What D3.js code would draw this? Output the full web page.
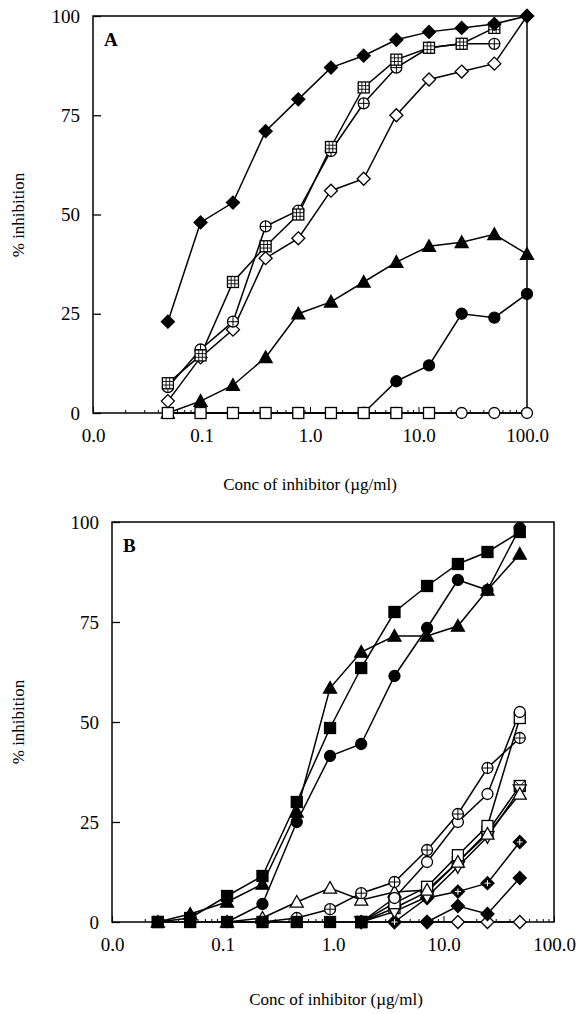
<!DOCTYPE html>
<html>
<head>
<meta charset="utf-8">
<script src="https://cdn.jsdelivr.net/npm/d3@7"></script>
<style>
  body { margin: 0; background: #fff; }
  svg { display: block; }
  text { font-family: "Liberation Serif", "Times New Roman", serif; fill: #000; }
</style>
</head>
<body>
<div id="chart"></div>
<script>
// ---- data ----
// panel A : concentrations (ug/ml)
var concA = [0.049, 0.098, 0.195, 0.39, 0.78, 1.56, 3.125, 6.25, 12.5, 25, 50, 100];
var aDiamondFilled = [23, 48, 53, 71, 79, 87, 90, 94, 96, 97, 98, 100];
var aSquareGrid    = [7.5, 14.5, 33, 42, 50, 67, 82, 89, 92, 93, 97, null];
var aCirclePlus    = [6.5, 16, 23, 47, 51, 66, 78, 87, 92, 93, 93, null];
var aDiamondOpen   = [3, 14, 21, 39, 44, 56, 59, 75, 84, 86, 88, 100];
var aTriangle      = [0, 3, 7, 14, 25, 28, 33, 38, 42, 43, 45, 40];
var aCircleFilled  = [null, null, null, null, null, null, 0, 8, 12, 25, 24, 30];
var aCircleOpen    = [0, 0, 0, 0, 0, 0, 0, 0, 0, 0, 0, 0];
var aSquareOpen    = [0, 0, 0, 0, 0, 0, 0, 0, 0, null, null, null];

// panel B
var concB = [0.026, 0.051, 0.11, 0.23, 0.47, 0.94, 1.8, 3.6, 7.1, 13.5, 25, 49];
var bSquareFilled  = [0, 1, 6.5, 11.5, 30, 48.5, 63.5, 77.5, 84, 89.5, 92.5, 97.5];
var bTriangle      = [0, 2, 5, 9.5, 27.5, 58.5, 67.5, 71.5, 71.5, 74, 83, 92];
var bCircleFilled  = [null, null, 0, 4.5, 25, 41.5, 44.5, 61.5, 73.5, 85.5, 83, 98.5];
var bCirclePlus    = [null, null, 0, 0, 1, 3.2, 7.2, 10, 18, 27, 38.5, 46];
var bTriangleOpen  = [null, null, 0, 1, 5, 8.5, 5.5, 7.5, 8, 15, 22, 32];
var bCircleOpen    = [null, null, null, null, null, null, 0, 6, 15, 25, 32, 52.5];
var bSquareOpen    = [null, null, null, null, null, null, 0, 4.7, 8.8, 16.7, 24, 51];
var bTriangleDown  = [null, null, null, null, null, null, 0, 2.6, 6.3, 13.8, 21.3, 33];
var bSquareX       = [null, null, null, null, null, null, 0, 3.5, 7.5, 15, 22.5, 34];
var bDiamondPlus   = [null, null, null, null, null, null, null, 0, 6, 7.6, 9.7, 20];
var bDiamondFilled = [null, null, null, null, null, null, 0, 0, 0, 4, 2, 11];
var bDiamondOpen   = [null, null, null, null, null, null, null, null, 0, 0, 0, 0];
var bSquareZero    = [0, 0, 0, 0, 0, 0, 0, null, null, null, null, null];

var yTicks = [0, 25, 50, 75, 100];
var xTicks = [0.01, 0.1, 1, 10, 100];
var xTitle = "Conc of inhibitor (\u00b5g/ml)";
var yTitle = "% inhibition";
var serif = "Liberation Serif, Times New Roman, serif";

var svg = d3.select("#chart").append("svg")
    .attr("width", 579).attr("height", 1014);

// draws one marker shape at 0,0 inside g
function marker(g, type) {
    var s = 5.5;
    var lw = 1.3;
    function sq(fill) {
        g.append("rect").attr("x", -s).attr("y", -s).attr("width", 2 * s).attr("height", 2 * s)
            .attr("fill", fill).attr("stroke", "#000").attr("stroke-width", lw);
    }
    function diamond(fill) {
        var d = 6.5;
        g.append("path").attr("d", "M0," + (-d) + "L" + d + ",0L0," + d + "L" + (-d) + ",0Z")
            .attr("fill", fill).attr("stroke", "#000").attr("stroke-width", lw);
    }
    function tri(fill, down) {
        var h = 6.5, k = down ? -1 : 1;
        g.append("path").attr("d", "M0," + (-h * k) + "L" + h + "," + (h * 0.8 * k) + "L" + (-h) + "," + (h * 0.8 * k) + "Z")
            .attr("fill", fill).attr("stroke", "#000").attr("stroke-width", lw);
    }
    function circ(fill) {
        g.append("circle").attr("r", 5.5).attr("fill", fill).attr("stroke", "#000").attr("stroke-width", lw);
    }
    function cross(r, col) {
        g.append("path").attr("d", "M" + (-r) + ",0H" + r + "M0," + (-r) + "V" + r)
            .attr("stroke", col || "#000").attr("stroke-width", 1);
    }
    switch (type) {
        case "diamondFilled": diamond("#000"); break;
        case "diamondOpen": diamond("#fff"); break;
        case "diamondPlus": diamond("#000"); cross(3, "#fff"); break;
        case "squareFilled": sq("#000"); break;
        case "squareOpen": sq("#fff"); break;
        case "squareGrid":
            sq("#fff");
            g.append("path").attr("d", "M" + (-s) + ",-1.8H" + s + "M" + (-s) + ",1.8H" + s +
                "M-1.8," + (-s) + "V" + s + "M1.8," + (-s) + "V" + s)
                .attr("stroke", "#000").attr("stroke-width", 0.9);
            break;
        case "squareX":
            sq("#fff");
            g.append("path").attr("d", "M" + (-s) + "," + (-s) + "L" + s + "," + s + "M" + s + "," + (-s) + "L" + (-s) + "," + s)
                .attr("stroke", "#000").attr("stroke-width", 1);
            break;
        case "triangleFilled": tri("#000", false); break;
        case "triangleOpen": tri("#fff", false); break;
        case "triangleDown": tri("#fff", true); break;
        case "circleFilled": circ("#000"); break;
        case "circleOpen": circ("#fff"); break;
        case "circlePlus": circ("#fff"); cross(5.5); break;
    }
}

function panel(p) {
    var x = d3.scaleLog().domain([0.01, 100]).range([p.left, p.right]);
    var y = d3.scaleLinear().domain([0, 100]).range([p.bottom, p.top]);
    var g = svg.append("g");

    // frame
    g.append("rect").attr("x", p.left).attr("y", p.top)
        .attr("width", p.right - p.left).attr("height", p.bottom - p.top)
        .attr("fill", "none").attr("stroke", "#000").attr("stroke-width", 1.5);

    // x axis : inward ticks, log minor ticks
    var xAxis = d3.axisBottom(x).tickValues(xTicks).tickSize(-6).tickFormat(d3.format(".1f")).tickPadding(12);
    var ax = g.append("g").attr("transform", "translate(0," + p.bottom + ")").call(xAxis)
        .attr("font-family", serif);
    ax.select(".domain").remove();
    ax.selectAll("line").attr("stroke-width", 1);
    ax.selectAll("text").attr("font-size", 19).attr("font-family", serif).attr("dy", "0.9em");
    var minors = x.ticks().filter(function(v) { return xTicks.indexOf(v) < 0; });
    g.selectAll(".xminor").data(minors).enter().append("line")
        .attr("x1", function(d) { return x(d); }).attr("x2", function(d) { return x(d); })
        .attr("y1", p.bottom).attr("y2", p.bottom - 3)
        .attr("stroke", "#000").attr("stroke-width", 1);

    // y axis : inward ticks
    var yAxis = d3.axisLeft(y).tickValues(yTicks).tickSize(-8).tickPadding(13);
    var ay = g.append("g").attr("transform", "translate(" + p.left + ",0)").call(yAxis)
        .attr("font-family", serif);
    ay.select(".domain").remove();
    ay.selectAll("line").attr("stroke-width", 1.3);
    ay.selectAll("text").attr("font-size", 19).attr("font-family", serif);

    // titles
    g.append("text").attr("x", p.xTitleX).attr("y", p.xTitleY).attr("text-anchor", "middle")
        .attr("font-family", serif).attr("font-size", 17).text(xTitle);
    g.append("text").attr("transform", "translate(" + p.yTitleX + "," + p.yTitleY + ") rotate(-90)")
        .attr("text-anchor", "middle").attr("font-family", serif).attr("font-size", 17).text(yTitle);
    g.append("text").attr("x", p.left + 11).attr("y", p.top + 30)
        .attr("font-family", serif).attr("font-size", 19).attr("font-weight", "bold").text(p.letter);

    var line = d3.line()
        .defined(function(d) { return d.v !== null; })
        .x(function(d) { return x(d.c); })
        .y(function(d) { return y(d.v); });

    p.series.forEach(function(s) {
        var pts = s.values.map(function(v, i) { return { c: p.conc[i], v: v }; });
        g.append("path").datum(pts).attr("d", line)
            .attr("fill", "none").attr("stroke", "#000").attr("stroke-width", 1.5);
    });
    p.series.forEach(function(s) {
        var pts = s.values.map(function(v, i) { return { c: p.conc[i], v: v }; })
            .filter(function(d) { return d.v !== null; });
        pts.forEach(function(d) {
            var m = g.append("g").attr("transform", "translate(" + x(d.c) + "," + y(d.v) + ")");
            marker(m, s.type);
        });
    });
}

panel({
    letter: "A", left: 93, right: 527, top: 16, bottom: 413,
    xTitleX: 310, xTitleY: 490, yTitleX: 24, yTitleY: 215,
    conc: concA,
    series: [
        { type: "circleOpen", values: aCircleOpen },
        { type: "circleFilled", values: aCircleFilled },
        { type: "triangleFilled", values: aTriangle },
        { type: "squareOpen", values: aSquareOpen },
        { type: "diamondOpen", values: aDiamondOpen },
        { type: "circlePlus", values: aCirclePlus },
        { type: "squareGrid", values: aSquareGrid },
        { type: "diamondFilled", values: aDiamondFilled }
    ]
});

panel({
    letter: "B", left: 112, right: 554, top: 522, bottom: 922,
    xTitleX: 336, xTitleY: 1005, yTitleX: 24, yTitleY: 722,
    conc: concB,
    series: [
        { type: "diamondOpen", values: bDiamondOpen },
        { type: "diamondFilled", values: bDiamondFilled },
        { type: "diamondPlus", values: bDiamondPlus },
        { type: "squareX", values: bSquareX },
        { type: "triangleDown", values: bTriangleDown },
        { type: "squareOpen", values: bSquareOpen },
        { type: "triangleOpen", values: bTriangleOpen },
        { type: "circleOpen", values: bCircleOpen },
        { type: "circlePlus", values: bCirclePlus },
        { type: "circleFilled", values: bCircleFilled },
        { type: "triangleFilled", values: bTriangle },
        { type: "squareFilled", values: bSquareFilled },
        { type: "squareFilled", values: bSquareZero }
    ]
});
</script>
</body>
</html>
